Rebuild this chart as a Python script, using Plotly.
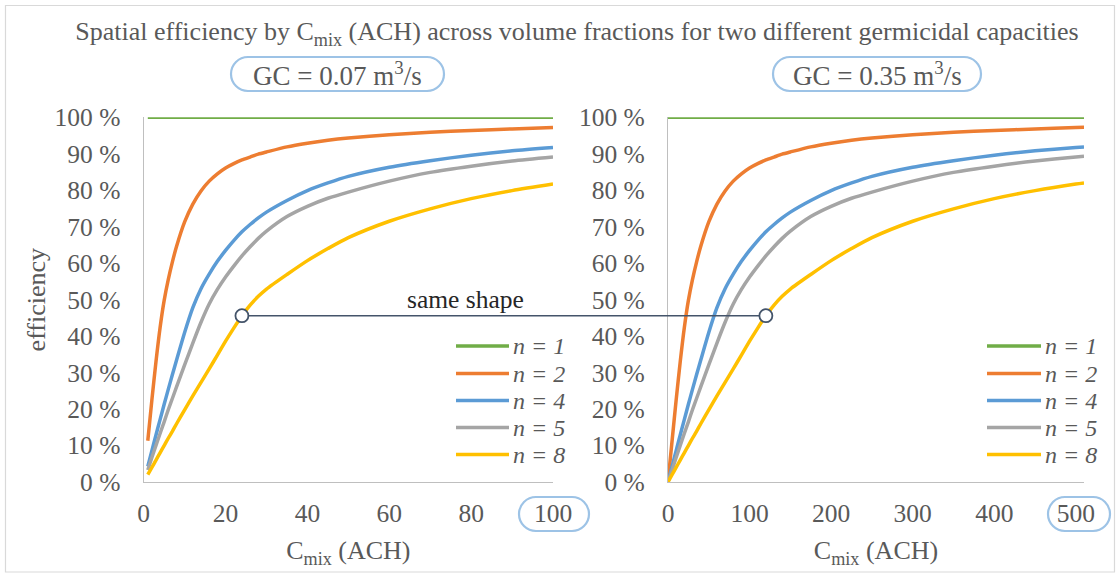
import plotly.graph_objects as go

W, H = 1120, 577
FONT = "Liberation Serif, Times New Roman, Tinos, DejaVu Serif, serif"
GREY_TXT = "#595959"

# C_mix (ACH) sample points, low capacity panel
x_low = [1, 2, 3, 4, 5, 6, 7, 8, 10, 12, 14, 16, 18, 20, 22, 24, 26, 28, 30,
         35, 40, 45, 50, 60, 70, 80, 90, 100]
# C_mix (ACH) sample points, high capacity panel
x_high = [0, 5, 10, 15, 20, 25, 30, 35, 40, 50, 60, 70, 80, 90, 100, 110, 120,
          130, 140, 150, 175, 200, 225, 250, 300, 350, 400, 450, 500, 510]

# spatial efficiency (%) per volume fraction n
eff_n1 = [100, 100]
eff_n2 = [11.3, 22.5, 33, 42.3, 49.8, 55.5, 60.3, 64.5, 71.3, 76.2, 79.8, 82.5,
          84.5, 86.1, 87.3, 88.3, 89.1, 89.9, 90.5, 91.9, 92.9, 93.7, 94.3, 95.2,
          95.9, 96.4, 96.8, 97.2]
eff_n4 = [4.3, 8.6, 12.9, 17.1, 21.3, 25.4, 29.4, 33.3, 41, 47.8, 53, 57, 60.5,
          63.5, 66.2, 68.6, 70.6, 72.4, 74, 77.2, 79.9, 82, 83.8, 86.3, 88.1,
          89.6, 90.8, 91.7]
eff_n5 = [3.3, 6.7, 10, 13.3, 16.5, 19.8, 22.9, 26, 32.1, 38.1, 43.8, 48.8, 52.8,
          56.2, 59.2, 62, 64.5, 66.8, 68.8, 72.8, 75.6, 77.8, 79.5, 82.5, 84.9,
          86.6, 88, 89.1]
eff_n8 = [2, 4, 6, 8, 10, 12, 13.9, 15.9, 19.8, 23.6, 27.3, 31, 34.8, 38.6, 42.2,
          45.6, 48.5, 50.9, 52.9, 56.9, 60.7, 64, 67, 71.5, 74.9, 77.7, 79.9,
          81.7]
# last point of the high capacity panel (510 ACH)
eff_end = {"2": 97.25, "4": 91.85, "5": 89.3, "8": 82.0}

labels = ["n = 1", "n = 2", "n = 4", "n = 5", "n = 8"]
colors = ["#70ad47", "#ed7d31", "#5b9bd5", "#a5a5a5", "#ffc000"]

# highlighted operating point on the n = 8 curve in both panels
mark_low = (24, 45.6)
mark_high = (120, 45.6)

x_low_rng = [0, 100]
x_high_rng = [0, 510]
y_rng = [0, 100]

dom_low = [143.7 / W, 553 / W]
dom_high = [668 / W, 1084 / W]
dom_y = [1 - 482 / H, 1 - 117.3 / H]


def px(x):
    return x / W


def py(y):
    return 1 - y / H


def paper_x(dom, rng, v):
    return dom[0] + (v - rng[0]) / (rng[1] - rng[0]) * (dom[1] - dom[0])


def paper_y(v):
    return dom_y[0] + (v - y_rng[0]) / (y_rng[1] - y_rng[0]) * (dom_y[1] - dom_y[0])


def stadium(x0, y0, x1, y1):
    # rounded box with semicircular ends, pixel input -> paper path
    r = (y1 - y0) / 2
    k = 0.5523 * r
    pts = [
        ("M", [(x0 + r, y0)]),
        ("L", [(x1 - r, y0)]),
        ("C", [(x1 - r + k, y0), (x1, y0 + r - k), (x1, y0 + r)]),
        ("C", [(x1, y0 + r + k), (x1 - r + k, y1), (x1 - r, y1)]),
        ("L", [(x0 + r, y1)]),
        ("C", [(x0 + r - k, y1), (x0, y0 + r + k), (x0, y0 + r)]),
        ("C", [(x0, y0 + r - k), (x0 + r - k, y0), (x0 + r, y0)]),
    ]
    out = []
    for cmd, ps in pts:
        out.append(cmd + " ".join(f"{px(a):.5f},{py(b):.5f}" for a, b in ps))
    return " ".join(out) + " Z"


fig = go.Figure()

low_series = [eff_n2, eff_n4, eff_n5, eff_n8]
keys = ["2", "4", "5", "8"]
curve = dict(width=3.5, shape="spline", smoothing=0.7)

# low capacity panel
fig.add_trace(go.Scatter(x=[x_low[0], x_low[-1]], y=eff_n1, mode="lines",
                         line=dict(color=colors[0], width=3.5),
                         name=labels[0], xaxis="x", yaxis="y"))
for i, ys in enumerate(low_series):
    fig.add_trace(go.Scatter(x=x_low, y=ys, mode="lines",
                             line=dict(color=colors[i + 1], **curve),
                             name=labels[i + 1], xaxis="x", yaxis="y"))

# high capacity panel
fig.add_trace(go.Scatter(x=[x_high[0], x_high[-1]], y=eff_n1, mode="lines",
                         line=dict(color=colors[0], width=3.5),
                         name=labels[0], xaxis="x2", yaxis="y2"))
for i, ys in enumerate(low_series):
    yh = [0.0] + ys + [eff_end[keys[i]]]
    fig.add_trace(go.Scatter(x=x_high, y=yh, mode="lines",
                             line=dict(color=colors[i + 1], **curve),
                             name=labels[i + 1], xaxis="x2", yaxis="y2"))

shapes = []
annotations = []

# chart area border
shapes.append(dict(type="rect", xref="paper", yref="paper",
                   x0=px(5.5), x1=px(1114.5), y0=py(572), y1=py(5.5),
                   line=dict(color="#d9d9d9", width=1.2), layer="below"))

# connector between the two marked points
lx = paper_x(dom_low, x_low_rng, mark_low[0])
rx = paper_x(dom_high, x_high_rng, mark_high[0])
shapes.append(dict(type="line", xref="paper", yref="paper",
                   x0=lx, x1=rx, y0=paper_y(mark_low[1]), y1=paper_y(mark_high[1]),
                   line=dict(color="#44546a", width=1.6), layer="above"))
for (mx, my), xr, yr in [(mark_low, "x", "y"), (mark_high, "x2", "y2")]:
    shapes.append(dict(type="circle", xref=xr, yref=yr,
                       xsizemode="pixel", ysizemode="pixel",
                       xanchor=mx, yanchor=my, x0=-6.5, x1=6.5, y0=-6.5, y1=6.5,
                       fillcolor="white", line=dict(color="#44546a", width=1.8),
                       layer="above"))

# rounded callouts
for box in [(231, 57, 444, 91), (773, 57, 981, 91),
            (519, 497, 589, 531), (1048, 497, 1110, 531)]:
    shapes.append(dict(type="path", xref="paper", yref="paper",
                       path=stadium(*box),
                       line=dict(color="#9dc3e6", width=2.2), layer="above"))

annotations.append(dict(text="GC = 0.07 m<sup>3</sup>/s", x=px(337.5), y=py(74),
                        xref="paper", yref="paper", showarrow=False,
                        xanchor="center", yanchor="middle",
                        font=dict(family=FONT, size=27, color=GREY_TXT)))
annotations.append(dict(text="GC = 0.35 m<sup>3</sup>/s", x=px(877), y=py(74),
                        xref="paper", yref="paper", showarrow=False,
                        xanchor="center", yanchor="middle",
                        font=dict(family=FONT, size=27, color=GREY_TXT)))
annotations.append(dict(text="same shape", x=px(465), y=py(299),
                        xref="paper", yref="paper", showarrow=False,
                        xanchor="center", yanchor="middle",
                        font=dict(family=FONT, size=25.5, color="#262626")))

# legends drawn inside each panel
legend_rows = [346, 373.5, 400.5, 427.5, 454.5]
for (lx0, lx1, tx) in [(456, 509, 511), (987, 1041, 1043)]:
    for lab, col, ry in zip(labels, colors, legend_rows):
        shapes.append(dict(type="line", xref="paper", yref="paper",
                           x0=px(lx0), x1=px(lx1), y0=py(ry), y1=py(ry),
                           line=dict(color=col, width=3.5), layer="above"))
        annotations.append(dict(text=f"<i>{lab}</i>", x=px(tx), y=py(ry),
                                xref="paper", yref="paper", showarrow=False,
                                xanchor="left", yanchor="middle",
                                font=dict(family=FONT, size=24, color=GREY_TXT)))

tickfont = dict(family=FONT, size=25.5, color=GREY_TXT)
axis_common = dict(showgrid=False, zeroline=False, showline=True,
                   linecolor="#bfbfbf", linewidth=1.3, ticks="",
                   tickfont=tickfont, automargin=False)

fig.update_layout(
    width=W, height=H,
    margin=dict(l=0, r=0, t=0, b=0, autoexpand=False),
    paper_bgcolor="white", plot_bgcolor="white",
    showlegend=False,
    font=dict(family=FONT, color=GREY_TXT),
    title=dict(text="Spatial efficiency by C<sub>mix</sub> (ACH) across volume fractions "
                    "for two different germicidal capacities",
               x=px(577), y=py(31), xanchor="center", yanchor="middle",
               font=dict(family=FONT, size=26, color=GREY_TXT)),
    xaxis=dict(domain=dom_low, range=x_low_rng, tickvals=[0, 20, 40, 60, 80, 100],
               anchor="y", ticklabelstandoff=8,
               title=dict(text="C<sub>mix</sub> (ACH)", standoff=14,
                          font=dict(family=FONT, size=26, color=GREY_TXT)),
               **axis_common),
    yaxis=dict(domain=dom_y, range=y_rng, dtick=10, ticksuffix=" %", anchor="x",
               ticklabelstandoff=17,
               title=dict(text="efficiency", standoff=1,
                          font=dict(family=FONT, size=26, color=GREY_TXT)),
               **axis_common),
    xaxis2=dict(domain=dom_high, range=x_high_rng,
                tickvals=[0, 100, 200, 300, 400, 500], anchor="y2",
                ticklabelstandoff=8,
                title=dict(text="C<sub>mix</sub> (ACH)", standoff=14,
                           font=dict(family=FONT, size=26, color=GREY_TXT)),
                **axis_common),
    yaxis2=dict(domain=dom_y, range=y_rng, dtick=10, ticksuffix=" %", anchor="x2",
                ticklabelstandoff=17, **axis_common),
    shapes=shapes,
    annotations=annotations,
)

fig.write_html("out.html")
